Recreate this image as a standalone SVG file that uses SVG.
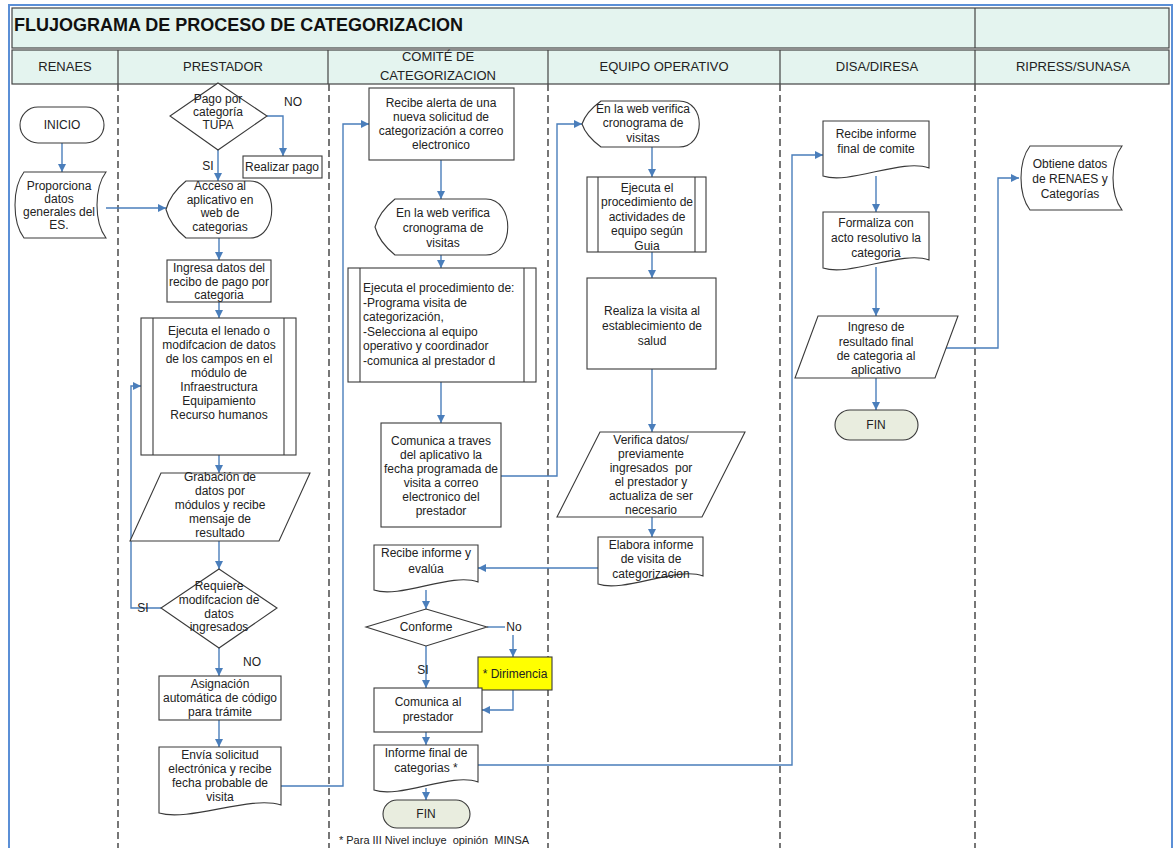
<svg xmlns="http://www.w3.org/2000/svg" width="1176" height="848" viewBox="0 0 1176 848">
  <defs>
    <style>
      .shape { fill: #ffffff; stroke: #3a3a3a; stroke-width: 1.1; }
      .fin { fill: #e9eddf; stroke: #3a3a3a; stroke-width: 1.1; }
      .yel { fill: #ffff00; stroke: #3a3a3a; stroke-width: 1.1; }
      .t { font-family: "Liberation Sans", Arial, sans-serif; font-size: 12px; fill: #222; text-anchor: middle; }
      .tl { font-family: "Liberation Sans", Arial, sans-serif; font-size: 12px; fill: #222; text-anchor: start; }
      .h { font-family: "Liberation Sans", Arial, sans-serif; font-size: 13px; fill: #222; text-anchor: middle; }
      .title { font-family: "Liberation Sans", Arial, sans-serif; font-size: 18px; font-weight: bold; fill: #111; }
      .note { font-family: "Liberation Sans", Arial, sans-serif; font-size: 11px; fill: #222; text-anchor: middle; white-space: pre; }
      .conn { fill: none; stroke: #4a7ebb; stroke-width: 1.4; }
      .arr { marker-end: url(#ah); }
      .lane { stroke: #555; stroke-width: 1.6; stroke-dasharray: 7 4; }
      .hdr { fill: #e4f4ef; stroke: #444; stroke-width: 1.2; }
      .sep { stroke: #444; stroke-width: 1.2; }
    </style>
    <marker id="ah" viewBox="0 0 10 10" refX="10" refY="5" markerWidth="8" markerHeight="8" markerUnits="userSpaceOnUse" orient="auto">
      <path d="M0,0 L10,5 L0,10 z" fill="#4a7ebb"/>
    </marker>
  </defs>

  <rect width="1176" height="848" fill="#ffffff"/>

  <!-- outer frame -->
  <rect x="9" y="5" width="1163" height="850" fill="none" stroke="#5b8fd6" stroke-width="2"/>

  <!-- title bar -->
  <g id="title">
    <rect class="hdr" x="12" y="8" width="1157" height="40"/>
    <line class="sep" x1="975" y1="8" x2="975" y2="48"/>
    <text class="title" x="14" y="31">FLUJOGRAMA DE PROCESO DE CATEGORIZACION</text>
  </g>

  <!-- lane headers -->
  <g id="lane-headers">
    <rect class="hdr" x="12" y="50" width="1157" height="34"/>
    <line class="sep" x1="118" y1="50" x2="118" y2="84"/>
    <line class="sep" x1="328" y1="50" x2="328" y2="84"/>
    <line class="sep" x1="548" y1="50" x2="548" y2="84"/>
    <line class="sep" x1="780" y1="50" x2="780" y2="84"/>
    <line class="sep" x1="975" y1="50" x2="975" y2="84"/>
    <text class="h" x="65" y="71">RENAES</text>
    <text class="h" x="223" y="71">PRESTADOR</text>
    <text class="h" x="438" y="61">COMITÉ DE</text>
    <text class="h" x="438" y="80">CATEGORIZACION</text>
    <text class="h" x="664" y="71">EQUIPO OPERATIVO</text>
    <text class="h" x="877" y="71">DISA/DIRESA</text>
    <text class="h" x="1073" y="71">RIPRESS/SUNASA</text>
  </g>

  <!-- swimlane dividers -->
  <g id="lanes">
    <line class="lane" x1="118" y1="84" x2="118" y2="848"/>
    <line class="lane" x1="329" y1="84" x2="329" y2="848"/>
    <line class="lane" x1="548" y1="84" x2="548" y2="848"/>
    <line class="lane" x1="780" y1="84" x2="780" y2="848"/>
    <line class="lane" x1="975" y1="84" x2="975" y2="848"/>
  </g>

  <!-- connectors -->
  <g id="connectors">
    <path class="conn arr" d="M62,143 V172"/>
    <path class="conn arr" d="M106,208 H166"/>
    <path class="conn arr" d="M267,116 H283 V156"/>
    <path class="conn arr" d="M218,150 V181"/>
    <path class="conn arr" d="M219,238 V260"/>
    <path class="conn arr" d="M219,302 V318"/>
    <path class="conn arr" d="M219,455 V473"/>
    <path class="conn arr" d="M219,541 V569"/>
    <path class="conn arr" d="M161,608 H131 V386 H141"/>
    <path class="conn arr" d="M219,648 V676"/>
    <path class="conn arr" d="M219,720 V747"/>
    <path class="conn arr" d="M281,786 H343 V124 H369"/>

    <path class="conn arr" d="M441,160 V199"/>
    <path class="conn arr" d="M441,255 V268"/>
    <path class="conn arr" d="M441,382 V423"/>
    <path class="conn arr" d="M501,476 H557 V124 H582"/>
    <path class="conn arr" d="M598,568 H478"/>
    <path class="conn arr" d="M426,590 V609"/>
    <path class="conn" d="M487,627 H505"/>
    <path class="conn arr" d="M513,635 V657"/>
    <path class="conn arr" d="M513,690 V710 H482"/>
    <path class="conn arr" d="M426,646 V688"/>
    <path class="conn arr" d="M426,732 V745"/>
    <path class="conn arr" d="M426,788 V800"/>
    <path class="conn arr" d="M478,765 H792 V155 H823"/>

    <path class="conn arr" d="M652,147 V177"/>
    <path class="conn arr" d="M652,252 V278"/>
    <path class="conn arr" d="M652,369 V432"/>
    <path class="conn arr" d="M652,517 V537"/>

    <path class="conn arr" d="M876,176 V212"/>
    <path class="conn arr" d="M876,267 V316"/>
    <path class="conn arr" d="M876,378 V410"/>
    <path class="conn arr" d="M946,348 H998 V178 H1019"/>

    <text class="t" x="293" y="106">NO</text>
    <text class="t" x="208" y="170">SI</text>
    <text class="t" x="143" y="612">SI</text>
    <text class="t" x="252" y="666">NO</text>
    <text class="t" x="514" y="631">No</text>
    <text class="t" x="423" y="674">SI</text>
  </g>

  <!-- RENAES -->
  <g id="inicio">
    <rect class="shape" x="20" y="107" width="84" height="36" rx="18"/>
    <text class="t" x="62" y="129">INICIO</text>
  </g>
  <g id="proporciona">
    <path class="shape" d="M24,172 H106 C94,188 94,222 106,238 H24 C12,222 12,188 24,172 Z"/>
    <text class="t"><tspan x="59" y="190">Proporciona</tspan><tspan x="59" y="203">datos</tspan><tspan x="59" y="216">generales del</tspan><tspan x="59" y="229">ES.</tspan></text>
  </g>

  <!-- PRESTADOR -->
  <g id="pago-tupa">
    <polygon class="shape" points="218,83 267,116 218,150 170,116"/>
    <text class="t"><tspan x="218" y="103">Pago por</tspan><tspan x="218" y="116">categoría</tspan><tspan x="218" y="129">TUPA</tspan></text>
  </g>
  <g id="realizar-pago">
    <rect class="shape" x="243" y="156" width="79" height="22"/>
    <text class="t" x="282" y="171">Realizar pago</text>
  </g>
  <g id="acceso">
    <path class="shape" d="M186,181 H250 C279,181 279,238 250,238 H186 Q170,225 166,209.5 Q170,194 186,181 Z"/>
    <text class="t"><tspan x="220" y="190">Acceso al</tspan><tspan x="220" y="204">aplicativo en</tspan><tspan x="220" y="217">web de</tspan><tspan x="220" y="231">categorias</tspan></text>
  </g>
  <g id="ingresa">
    <rect class="shape" x="167" y="260" width="104" height="42"/>
    <text class="t"><tspan x="219" y="272">Ingresa datos del</tspan><tspan x="219" y="286">recibo de pago por</tspan><tspan x="219" y="299">categoria</tspan></text>
  </g>
  <g id="llenado">
    <rect class="shape" x="141" y="318" width="155" height="137"/>
    <line class="shape" x1="153" y1="318" x2="153" y2="455"/>
    <line class="shape" x1="284" y1="318" x2="284" y2="455"/>
    <text class="t"><tspan x="219" y="335">Ejecuta el lenado o</tspan><tspan x="219" y="349">modifcacion de datos</tspan><tspan x="219" y="363">de los campos en el</tspan><tspan x="219" y="377">módulo de</tspan><tspan x="219" y="391">Infraestructura</tspan><tspan x="219" y="405">Equipamiento</tspan><tspan x="219" y="419">Recurso humanos</tspan></text>
  </g>
  <g id="grabacion">
    <polygon class="shape" points="161,473 310,473 279,541 130,541"/>
    <text class="t"><tspan x="220" y="481">Grabación de</tspan><tspan x="220" y="495">datos por</tspan><tspan x="220" y="509">módulos y recibe</tspan><tspan x="220" y="523">mensaje de</tspan><tspan x="220" y="537">resultado</tspan></text>
  </g>
  <g id="requiere">
    <polygon class="shape" points="219,569 277,608 219,648 161,608"/>
    <text class="t"><tspan x="219" y="590">Requiere</tspan><tspan x="219" y="604">modifcacion de</tspan><tspan x="219" y="618">datos</tspan><tspan x="219" y="631">ingresados</tspan></text>
  </g>
  <g id="asignacion">
    <rect class="shape" x="159" y="676" width="122" height="44"/>
    <text class="t"><tspan x="220" y="688">Asignación</tspan><tspan x="220" y="702">automática de código</tspan><tspan x="220" y="716">para trámite</tspan></text>
  </g>
  <g id="envia">
    <path class="shape" d="M159,747 H281 V805 C250.5,795 189.5,822 159,813 Z"/>
    <text class="t"><tspan x="220" y="759">Envía solicitud</tspan><tspan x="220" y="773">electrónica y recibe</tspan><tspan x="220" y="787">fecha probable de</tspan><tspan x="220" y="801">visita</tspan></text>
  </g>

  <!-- COMITE DE CATEGORIZACION -->
  <g id="recibe-alerta">
    <rect class="shape" x="369" y="88" width="145" height="72"/>
    <text class="t"><tspan x="441" y="107">Recibe alerta de una</tspan><tspan x="441" y="121">nueva solicitud de</tspan><tspan x="441" y="135">categorización a correo</tspan><tspan x="441" y="149">electronico</tspan></text>
  </g>
  <g id="web-cronograma-comite">
    <path class="shape" d="M395,199 H486 C515,199 515,255 486,255 H395 Q379,242 375,227 Q379,212 395,199 Z"/>
    <text class="t"><tspan x="443" y="217">En la web verifica</tspan><tspan x="443" y="232">cronograma de</tspan><tspan x="443" y="247">visitas</tspan></text>
  </g>
  <g id="procedimiento-comite">
    <rect class="shape" x="348" y="268" width="188" height="114"/>
    <line class="shape" x1="360" y1="268" x2="360" y2="382"/>
    <line class="shape" x1="524" y1="268" x2="524" y2="382"/>
    <text class="tl"><tspan x="363" y="292">Ejecuta el procedimiento de:</tspan><tspan x="363" y="307">-Programa visita de</tspan><tspan x="363" y="321">categorización,</tspan><tspan x="363" y="336">-Selecciona al equipo</tspan><tspan x="363" y="350">operativo y coordinador</tspan><tspan x="363" y="365">-comunica al prestador d</tspan></text>
  </g>
  <g id="comunica-fecha">
    <rect class="shape" x="381" y="423" width="120" height="104"/>
    <text class="t"><tspan x="441" y="445">Comunica a traves</tspan><tspan x="441" y="459">del aplicativo la</tspan><tspan x="441" y="473">fecha programada de</tspan><tspan x="441" y="487">visita a correo</tspan><tspan x="441" y="501">electronico del</tspan><tspan x="441" y="515">prestador</tspan></text>
  </g>
  <g id="recibe-informe">
    <path class="shape" d="M374,545 H478 V582 C452,572 400,599 374,590 Z"/>
    <text class="t"><tspan x="426" y="557">Recibe informe y</tspan><tspan x="426" y="573">evalúa</tspan></text>
  </g>
  <g id="conforme">
    <polygon class="shape" points="426,609 487,627 426,646 366,627"/>
    <text class="t" x="426" y="631">Conforme</text>
  </g>
  <g id="dirimencia">
    <rect class="yel" x="478" y="657" width="74" height="33"/>
    <text class="t" x="515" y="678">* Dirimencia</text>
  </g>
  <g id="comunica-prestador">
    <rect class="shape" x="374" y="688" width="108" height="44"/>
    <text class="t"><tspan x="428" y="706">Comunica al</tspan><tspan x="428" y="721">prestador</tspan></text>
  </g>
  <g id="informe-final">
    <path class="shape" d="M374,745 H478 V782 C452,772 400,799 374,790 Z"/>
    <text class="t"><tspan x="426" y="757">Informe final de</tspan><tspan x="426" y="772">categorias *</tspan></text>
  </g>
  <g id="fin-comite">
    <rect class="fin" x="383" y="800" width="87" height="28" rx="14"/>
    <text class="t" x="426" y="818">FIN</text>
  </g>
  <text class="note" x="434" y="844">* Para III Nivel incluye  opinión  MINSA</text>

  <!-- EQUIPO OPERATIVO -->
  <g id="web-cronograma-equipo">
    <path class="shape" d="M601,101 H679 C706,101 706,147 679,147 H601 Q586,136 582,124 Q586,112 601,101 Z"/>
    <text class="t"><tspan x="643" y="113">En la web verifica</tspan><tspan x="643" y="127">cronograma de</tspan><tspan x="643" y="142">visitas</tspan></text>
  </g>
  <g id="procedimiento-equipo">
    <rect class="shape" x="587" y="177" width="119" height="75"/>
    <line class="shape" x1="598" y1="177" x2="598" y2="252"/>
    <line class="shape" x1="695" y1="177" x2="695" y2="252"/>
    <text class="t"><tspan x="647" y="192">Ejecuta el</tspan><tspan x="647" y="206">procedimiento de</tspan><tspan x="647" y="221">actividades de</tspan><tspan x="647" y="235">equipo según</tspan><tspan x="647" y="250">Guia</tspan></text>
  </g>
  <g id="realiza-visita">
    <rect class="shape" x="587" y="278" width="129" height="91"/>
    <text class="t"><tspan x="652" y="315">Realiza la visita al</tspan><tspan x="652" y="330">establecimiento de</tspan><tspan x="652" y="345">salud</tspan></text>
  </g>
  <g id="verifica-datos">
    <polygon class="shape" points="600,432 745,432 702,517 557,517"/>
    <text class="t"><tspan x="651" y="444">Verifica datos/</tspan><tspan x="651" y="458">previamente</tspan><tspan x="651" y="472" style="white-space:pre">ingresados  por</tspan><tspan x="651" y="486">el prestador y</tspan><tspan x="651" y="500">actualiza de ser</tspan><tspan x="651" y="514">necesario</tspan></text>
  </g>
  <g id="elabora-informe">
    <path class="shape" d="M598,537 H703 V576 C677,566 624,593 598,584 Z"/>
    <text class="t"><tspan x="651" y="549">Elabora informe</tspan><tspan x="651" y="563">de visita de</tspan><tspan x="651" y="578">categorizacion</tspan></text>
  </g>

  <!-- DISA/DIRESA -->
  <g id="recibe-final">
    <path class="shape" d="M823,121 H929 V168 C902,158 850,185 823,176 Z"/>
    <text class="t"><tspan x="876" y="138">Recibe informe</tspan><tspan x="876" y="153">final de comite</tspan></text>
  </g>
  <g id="formaliza">
    <path class="shape" d="M823,212 H929 V260 C902,250 850,277 823,268 Z"/>
    <text class="t"><tspan x="876" y="227">Formaliza con</tspan><tspan x="876" y="242">acto resolutivo la</tspan><tspan x="876" y="257">categoria</tspan></text>
  </g>
  <g id="ingreso-resultado">
    <polygon class="shape" points="818,316 958,316 935,378 795,378"/>
    <text class="t"><tspan x="876" y="331">Ingreso de</tspan><tspan x="876" y="346">resultado final</tspan><tspan x="876" y="360">de categoria al</tspan><tspan x="876" y="374">aplicativo</tspan></text>
  </g>
  <g id="fin-disa">
    <rect class="fin" x="835" y="410" width="83" height="30" rx="15"/>
    <text class="t" x="876" y="429">FIN</text>
  </g>

  <!-- RIPRESS/SUNASA -->
  <g id="obtiene">
    <path class="shape" d="M1030,146 H1122 C1110,162 1110,194 1122,210 H1030 C1018,194 1018,162 1030,146 Z"/>
    <text class="t"><tspan x="1070" y="168">Obtiene datos</tspan><tspan x="1070" y="183">de RENAES y</tspan><tspan x="1070" y="198">Categorías</tspan></text>
  </g>
</svg>
